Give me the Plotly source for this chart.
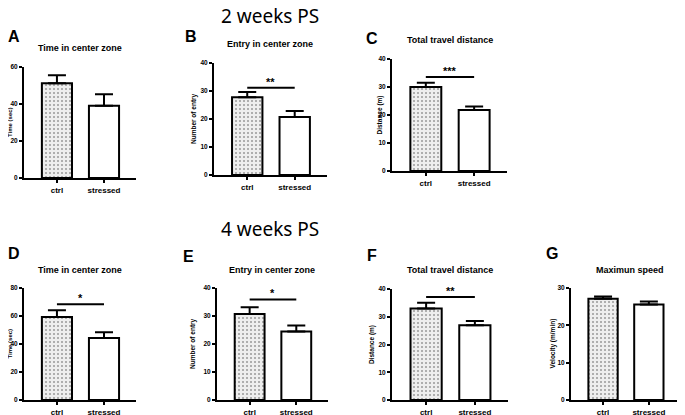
import plotly.graph_objects as go

# the page body has an 8px margin, so the figure is drawn 8px in from the window corner
OFF = 8
W, H = 685 - OFF, 415 - OFF

GROUPS = ["ctrl", "stressed"]

LETTERS = ["A", "B", "C", "D", "E", "F", "G"]
TITLES = ["Time in center zone", "Entry in center zone", "Total travel distance",
          "Time in center zone", "Entry in center zone", "Total travel distance", "Maximun speed"]
Y_LABELS = ["Time (sec)", "Number of entry", "Distance (m)",
            "Time (sec)", "Number of entry", "Distance (m)", "Velocity (m/min)"]
CTRL_MEAN = [51.2, 27.8, 30.0, 59.3, 30.7, 33.0, 27.1]
CTRL_SEM = [4.4, 1.8, 1.5, 4.8, 2.4, 2.0, 0.6]
STRESS_MEAN = [39.1, 20.7, 21.8, 44.2, 24.5, 26.9, 25.6]
STRESS_SEM = [6.2, 2.2, 1.2, 4.2, 2.1, 1.6, 0.8]
Y_MAX = [60, 40, 40, 80, 40, 40, 30]
Y_DTICK = [20, 10, 10, 20, 10, 10, 10]
SIG_LEVEL = [None, 31.2, 33.6, 68.4, 35.9, 37.1, None]
SIG_TEXT = ["", "**", "***", "*", "*", "**", ""]

# panel boxes in window pixels: (left, right, top, bottom)
BOXES = [(24, 136, 67, 178), (214, 327, 63, 175), (392, 507, 59, 171),
         (24, 136, 288, 400), (217, 328, 288, 400), (392, 508, 289, 400), (571, 680, 288, 400)]
TITLE_POS = [(80, 48), (270, 44), (450, 40), (80, 270), (272, 270), (450, 270), (630, 270)]
LETTER_POS = [(14, 37), (191, 37), (372, 38), (14, 253), (188, 256), (372, 255), (552, 253)]
YLAB_X = [9.5, 194, 379.5, 9.5, 193, 371.5, 552.5]
YLAB_SIZE = [6, 6.5, 6.5, 6, 6.5, 6.5, 6.5]

FONT = "Liberation Sans, Arial, sans-serif"


def px(x):
    return (x - OFF) / W


def py(y):
    return 1 - (y - OFF) / H


def label(text, x, y, size, angle=0, family=FONT):
    return dict(text=text, x=px(x), y=py(y), xref="paper", yref="paper", showarrow=False,
                xanchor="center", yanchor="middle", textangle=angle,
                font=dict(size=size, family=family, color="black"))


fig = go.Figure()
annotations = []
shapes = []

for i in range(7):
    n = "" if i == 0 else str(i + 1)
    xa, ya = "x" + n, "y" + n
    l, r, t, b = BOXES[i]
    fig.add_trace(go.Bar(
        x=GROUPS, y=[CTRL_MEAN[i], STRESS_MEAN[i]], xaxis=xa, yaxis=ya, width=0.64,
        marker=dict(color=["#eeeeee", "white"], line=dict(color="black", width=2),
                    pattern=dict(shape=[".", ""], fgcolor="#666666", bgcolor="#f2f2f2", size=4, solidity=0.2)),
        error_y=dict(type="data", symmetric=False, array=[CTRL_SEM[i], STRESS_SEM[i]], arrayminus=[0, 0],
                     color="black", thickness=2, width=9),
        showlegend=False, hoverinfo="skip",
    ))
    fig.update_layout({
        "xaxis" + n: dict(domain=[px(l), px(r)], anchor=ya, range=[-0.7, 1.68], showline=True,
                          linecolor="black", linewidth=2, ticks="outside", ticklen=3, tickwidth=2,
                          tickcolor="black", showgrid=False, zeroline=False, automargin=False,
                          tickfont=dict(size=8, color="black", family=FONT, weight="bold")),
        "yaxis" + n: dict(domain=[py(b), py(t)], anchor=xa, range=[0, Y_MAX[i]], dtick=Y_DTICK[i],
                          showline=True, linecolor="black", linewidth=2, ticks="outside", ticklen=3,
                          tickwidth=2, tickcolor="black", showgrid=False, zeroline=False, automargin=False,
                          tickfont=dict(size=6.5, color="black", family=FONT, weight="bold")),
    })
    annotations.append(label("<b>" + TITLES[i] + "</b>", *TITLE_POS[i], 9))
    annotations.append(label("<b>" + LETTERS[i] + "</b>", *LETTER_POS[i], 16))
    annotations.append(label("<b>" + Y_LABELS[i] + "</b>", YLAB_X[i], (t + b) / 2, YLAB_SIZE[i], angle=-90))
    if SIG_LEVEL[i] is not None:
        shapes.append(dict(type="line", xref=xa, yref=ya, x0=0, x1=1, y0=SIG_LEVEL[i], y1=SIG_LEVEL[i],
                           line=dict(color="black", width=2)))
        annotations.append(dict(text="<b>" + SIG_TEXT[i] + "</b>", x=0.5, y=SIG_LEVEL[i], xref=xa, yref=ya,
                                showarrow=False, xanchor="center", yanchor="bottom", yshift=-2,
                                font=dict(size=11, family=FONT, color="black")))

for text, y in [("2 weeks PS", 16), ("4 weeks PS", 229)]:
    annotations.append(label(text, 270, y, 19, family="Noto Sans, Open Sans, sans-serif"))

fig.update_layout(
    width=W, height=H, margin=dict(l=0, r=0, t=0, b=0),
    paper_bgcolor="white", plot_bgcolor="white",
    annotations=annotations, shapes=shapes,
    font=dict(family=FONT, color="black"),
)

fig.write_html("out.html")
